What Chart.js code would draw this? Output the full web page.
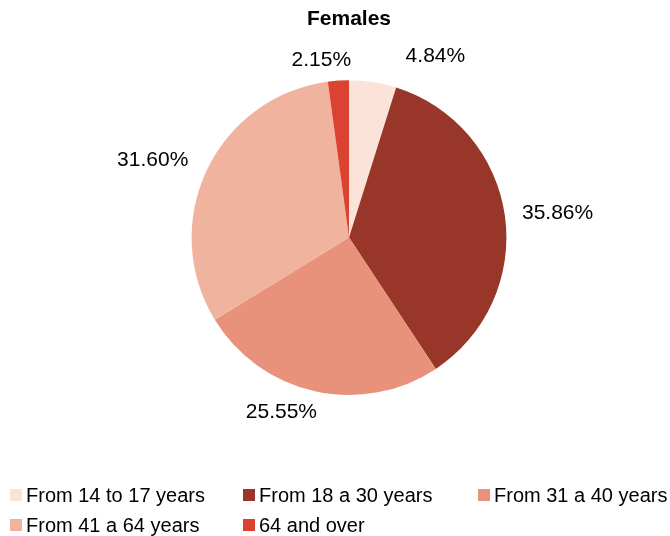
<!DOCTYPE html>
<html>
<head>
<meta charset="utf-8">
<script src="https://cdn.jsdelivr.net/npm/chart.js@4.4.1/dist/chart.umd.min.js"></script>
<style>
  body { margin: 0; background: #fff; font-family: Arial, "Liberation Sans", sans-serif; }
  #wrap { position: relative; width: 670px; height: 536px; }
  #grafico { position: absolute; left: 0; top: 0; }
  #legenda {
    position: absolute; left: 10px; top: 484px;
    display: grid; grid-template-columns: 233px 235px 190px;
    row-gap: 8px; font-size: 20px; color: #000;
  }
  .item { display: flex; align-items: center; white-space: nowrap; height: 22px; }
  .cor { width: 12px; height: 12px; margin-right: 4px; flex: none; }
</style>
</head>
<body>
<div id="wrap">
  <canvas id="grafico" width="670" height="536"></canvas>
  <div id="legenda"></div>
</div>
<script>
// Dados do gráfico
const categorias = ['From 14 to 17 years', 'From 18 a 30 years', 'From 31 a 40 years', 'From 41 a 64 years', '64 and over'];
const valores = [4.84, 35.86, 25.55, 31.60, 2.15];
const cores = ['#fce3da', '#973629', '#e8917b', '#f0b39e', '#db4232'];
// ajuste fino da posição dos rótulos (px)
const ajustes = [[58, 4], [23, 2], [-27, -8], [-27, 3], [-15, 10]];

// Rótulos de porcentagem fora das fatias
const rotulosPlugin = {
  id: 'rotulos',
  afterDatasetsDraw(chart) {
    const ctx = chart.ctx;
    const meta = chart.getDatasetMeta(0);
    ctx.save();
    ctx.font = '21px Arial, "Liberation Sans", sans-serif';
    ctx.fillStyle = '#000';
    ctx.textAlign = 'center';
    ctx.textBaseline = 'middle';
    meta.data.forEach((arc, i) => {
      const meio = (arc.startAngle + arc.endAngle) / 2;
      const d = arc.outerRadius + 30;
      const x = arc.x + Math.cos(meio) * d + ajustes[i][0];
      const y = arc.y + Math.sin(meio) * d + ajustes[i][1];
      ctx.fillText(valores[i].toFixed(2) + '%', x, y);
    });
    ctx.restore();
  }
};

new Chart(document.getElementById('grafico'), {
  type: 'pie',
  data: {
    labels: categorias,
    datasets: [{
      data: valores,
      backgroundColor: cores,
      borderWidth: 0
    }]
  },
  options: {
    responsive: false,
    animation: false,
    layout: { padding: { top: 0, bottom: 141, left: 28, right: 0 } },
    plugins: {
      legend: { display: false },
      tooltip: { enabled: false },
      title: {
        display: true,
        text: 'Females',
        color: '#000',
        font: { family: 'Arial, "Liberation Sans", sans-serif', size: 21, weight: 'bold' },
        padding: { top: 7, bottom: 48 }
      }
    }
  },
  plugins: [rotulosPlugin]
});

// Legenda em HTML
const legenda = document.getElementById('legenda');
categorias.forEach((cat, i) => {
  const div = document.createElement('div');
  div.className = 'item';
  div.innerHTML = `<span class="cor" style="background:${cores[i]}"></span>${cat}`;
  legenda.appendChild(div);
});
</script>
</body>
</html>
